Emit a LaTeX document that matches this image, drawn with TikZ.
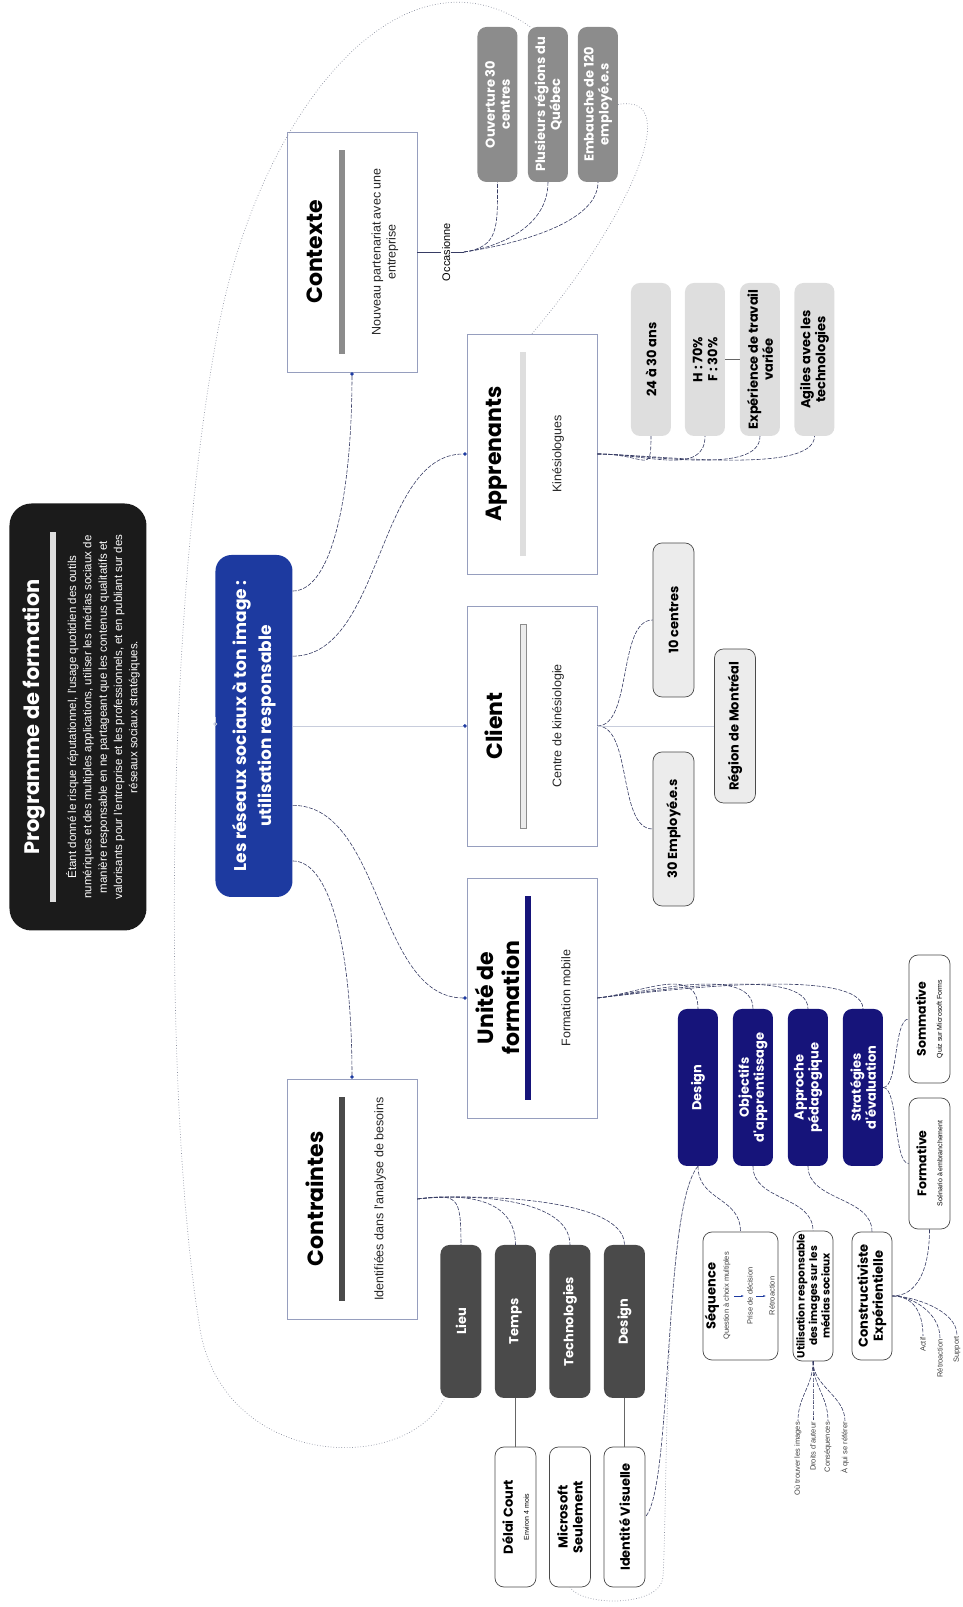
\documentclass[tikz,border=0pt]{standalone}
\usepackage{fontspec}
\setmainfont{Liberation Sans}
\newfontfamily\headfont{Poppins}
\usetikzlibrary{arrows.meta,positioning,calc}

\definecolor{inkblack}{RGB}{27,27,27}
\definecolor{royal}{RGB}{29,58,160}
\definecolor{navy}{RGB}{22,20,122}
\definecolor{cardline}{RGB}{150,158,190}
\definecolor{midgray}{RGB}{140,140,140}
\definecolor{softgray}{RGB}{222,222,222}
\definecolor{palegray}{RGB}{236,236,236}
\definecolor{darkgray}{RGB}{74,74,74}
\definecolor{linkblue}{RGB}{55,60,100}
\definecolor{relgray}{RGB}{140,145,160}
\definecolor{axisgray}{RGB}{200,205,220}

\begin{document}
\begin{tikzpicture}[x=1pt, y=1pt, rotate=90, transform shape,
    card/.style={draw=cardline, fill=white, line width=0.7pt, minimum width=240, minimum height=130},
    cardtitle/.style={font=\headfont\bfseries\fontsize{22}{26}\selectfont, align=center, inner sep=0pt},
    cardsub/.style={font=\fontsize{12.5}{15}\selectfont, align=center, inner sep=0pt, text=black!85},
    pill/.style={rounded corners=9, minimum width=155, minimum height=40, inner sep=1pt, align=center, font=\headfont\bfseries\fontsize{13}{15}\selectfont},
    greypill/.style={pill, fill=midgray, text=white},
    lightpill/.style={pill, fill=softgray, minimum width=153},
    palepill/.style={pill, fill=palegray, draw=darkgray, line width=0.7pt, minimum width=154, minimum height=41},
    navypill/.style={pill, fill=navy, text=white, minimum width=157},
    darkpill/.style={pill, fill=darkgray, text=white, minimum width=153, minimum height=41},
    whitebox/.style={draw=darkgray, fill=white, rounded corners=9, line width=0.7pt, align=center, minimum width=140, minimum height=41, inner sep=1pt, font=\headfont\bfseries\fontsize{13}{15}\selectfont},
    smalllabel/.style={font=\fontsize{7.5}{9}\selectfont, inner sep=1pt, text=black!75},
    link/.style={draw=linkblue, line width=0.6pt, dash pattern=on 4pt off 1.5pt},
    rel/.style={draw=relgray, line width=0.7pt, dotted},
    axisline/.style={draw=axisgray, line width=0.7pt},
    solidline/.style={draw=black!60, line width=0.7pt},
    enddot/.style={-{Circle[length=3.5pt, color=royal]}},
    seqarrow/.style={-{Latex[length=2.5pt]}, draw=royal, line width=0.5pt, shorten <=2.5pt, shorten >=2pt}
]
\useasboundingbox (0,0) rectangle (1607,963);

% programme
\node[fill=inkblack, rounded corners=22, minimum width=427, minimum height=137] (prog) at (890,885) {};
\node[font=\headfont\bfseries\fontsize{21}{25}\selectfont, text=white, inner sep=0pt] (progtitle) at (890,929) {Programme de formation};
\fill[softgray] (705,907) rectangle (1075,913);
\node[font=\fontsize{11.5}{15.3}\selectfont, text=white, align=center, inner sep=0pt] (progtext) at (890,860) {Étant donné le risque réputationnel, l'usage quotidien des outils\\numériques et des multiples applications, utiliser les médias sociaux de\\manière responsable en ne partageant que les contenus qualitatifs et\\valorisants pour l'entreprise et les professionnels, et en publiant sur des\\réseaux sociaux stratégiques.};

\node[fill=royal, rounded corners=16, minimum width=342, minimum height=77, text=white, align=center, font=\headfont\bfseries\fontsize{17}{25}\selectfont] (cen) at (881,709) {Les réseaux sociaux à ton image :\\utilisation responsable};

% cards
\node[card] (ctx) at (1355,611) {};
\node[cardtitle] (ctxtitle) at (1355,648) {Contexte};
\fill[midgray] (1253,618) rectangle (1457,624);
\node[cardsub] (ctxsub) at (1355,578) {Nouveau partenariat avec une\\entreprise};

\node[card] (app) at (1153,431) {};
\node[cardtitle] (apptitle) at (1153,466) {Apprenants};
\fill[softgray] (1051,437) rectangle (1255,443);
\node[cardsub] (appsub) at (1153,405) {Kinésiologues};

\node[card] (cli) at (881,431) {};
\node[cardtitle] (clititle) at (881,469) {Client};
\draw[midgray, fill=palegray, line width=0.8pt] (779,437) rectangle (983,443);
\node[cardsub] (clisub) at (881,405) {Centre de kinésiologie};

\node[card] (uni) at (609,431) {};
\node[cardtitle] (unititle) at (609,466) {Unité de\\formation};
\fill[navy] (507,432) rectangle (711,438);
\node[cardsub] (unisub) at (609,397) {Formation mobile};

\node[card] (ctr) at (408,611) {};
\node[cardtitle] (ctrtitle) at (408,648) {Contraintes};
\fill[darkgray] (306,618) rectangle (510,624);
\node[cardsub] (ctrsub) at (408,583) {Identifiées dans l'analyse de besoins};

% contexte
\coordinate (occj) at (1355,499);
\node[greypill] (ouv) at (1502.5,465.5) {Ouverture 30\\centres};
\node[greypill] (plus) at (1502.5,415) {Plusieurs régions du\\Québec};
\node[greypill] (emb) at (1502.5,365) {Embauche de 120\\employé.e.s};

% apprenants
\node[lightpill] (age) at (1247.5,312) {24 à 30 ans};
\node[lightpill] (sexe) at (1247.5,258) {H : 70\%\\F : 30\%};
\node[lightpill] (exp) at (1247.5,203) {Expérience de travail\\variée};
\node[lightpill] (agile) at (1247.5,148.5) {Agiles avec les\\technologies};

% client
\node[palepill] (cent) at (987,289.5) {10 centres};
\node[palepill] (empl) at (778,289.5) {30 Employé.e.s};
\node[palepill] (reg) at (881,228) {Région de Montréal};

% unite de formation
\node[navypill] (udesign) at (519.5,265) {Design};
\node[navypill] (obj) at (519.5,210) {Objectifs\\d'apprentissage};
\node[navypill] (appr) at (519.5,155) {Approche\\pédagogique};
\node[navypill] (strat) at (519.5,100) {Stratégies\\d'évaluation};

\node[whitebox, minimum width=128] (somm) at (588,33.5) {{\headfont\bfseries\fontsize{12.5}{14}\selectfont Sommative}\\[1pt]{\normalfont\fontsize{7}{9}\selectfont Quiz sur Microsoft Forms}};
\node[whitebox, minimum width=131] (form) at (443.5,33.5) {{\headfont\bfseries\fontsize{12.5}{14}\selectfont Formative}\\[1pt]{\normalfont\fontsize{7}{9}\selectfont Scénario à embranchement}};

\node[whitebox, minimum width=128, minimum height=75] (seq) at (311,222.5) {};
\node[font=\headfont\bfseries\fontsize{13}{15}\selectfont, inner sep=1pt] (seqtitle) at (311,251) {Séquence};
\node[smalllabel] (seq1) at (311,236) {Question à choix multiples};
\node[smalllabel] (seq2) at (311,213) {Prise de décision};
\node[smalllabel] (seq3) at (311,191) {Rétroaction};
\draw[seqarrow] (seq1) -- (seq2);
\draw[seqarrow] (seq2) -- (seq3);

\node[whitebox, minimum width=130, minimum height=40, font=\headfont\bfseries\fontsize{10.5}{12.5}\selectfont] (util) at (311,150) {Utilisation responsable\\des images sur les\\médias sociaux};
\node[whitebox, minimum width=128, minimum height=40] (cstr) at (311,91) {Constructiviste\\Expérientielle};

\node[smalllabel, anchor=east] (lwhere) at (186,165) {Où trouver les images};
\node[smalllabel, anchor=east] (lrights) at (186,150) {Droits d'auteur};
\node[smalllabel, anchor=east] (lconseq) at (186,135) {Conséquences};
\node[smalllabel, anchor=east] (lwho) at (186,118) {À qui se référer};
\node[smalllabel, anchor=east] (lactif) at (271,40) {Actif};
\node[smalllabel, anchor=east] (lretro) at (269,23) {Rétroaction};
\node[smalllabel, anchor=east] (lsupport) at (272,6) {Support};

% contraintes
\node[darkpill] (lieu) at (285.5,502) {Lieu};
\node[darkpill] (temps) at (285.5,447.5) {Temps};
\node[darkpill] (tech) at (285.5,393) {Technologies};
\node[darkpill] (cdesign) at (285.5,338.5) {Design};
\node[whitebox] (delai) at (90,447.5) {{\headfont\bfseries\fontsize{13}{15}\selectfont Délai Court}\\[1pt]{\normalfont\fontsize{7}{9}\selectfont Environ 4 mois}};
\node[whitebox] (micro) at (90,393) {Microsoft\\Seulement};
\node[whitebox] (ident) at (90,338.5) {Identité Visuelle};

% branches
\draw[axisline, -{Circle[open, length=4pt, color=axisgray]}] (prog.south |- cen.north) -- (cen.north);
\draw[axisline, enddot] (cen.south) -- (cli.north);
\draw[link, enddot] (cen.-16) .. controls +(0,-40) and +(-120,0) .. (ctx.west);
\draw[link, enddot] (cen.-29) .. controls +(0,-90) and +(0,90) .. (app.north);
\draw[link, enddot] (cen.-154) .. controls +(0,-90) and +(0,90) .. (uni.north);
\draw[link, enddot] (cen.-164) .. controls +(0,-40) and +(120,0) .. (ctr.east);

\draw[draw=linkblue, line width=0.6pt] (ctx.south) -- node[pos=0.62, fill=white, inner sep=1pt, font=\fontsize{11}{13}\selectfont] (occlabel) {Occasionne} (occj);
\foreach \n in {ouv,plus,emb}
  \draw[link] (occj) .. controls +(5,-35) and +(-45,0) .. (\n.west);

\foreach \n in {age,sexe,exp,agile}
  \draw[link] (app.south) .. controls +(0,-50) and +(-40,0) .. (\n.west);
\draw[solidline] (sexe.south) -- (exp.north);

\draw[link] (cli.south) .. controls +(0,-35) and +(0,35) .. (cent.north);
\draw[link] (cli.south) .. controls +(0,-35) and +(0,35) .. (empl.north);
\draw[axisline] (cli.south) -- (reg.north);

\foreach \n in {udesign,obj,appr,strat}
  \draw[link] (uni.south) .. controls +(5,-45) and +(45,0) .. (\n.east);
\draw[link] (strat.south) .. controls +(0,-15) and +(0,15) .. (somm.north);
\draw[link] (strat.south) .. controls +(0,-15) and +(0,15) .. (form.north);
\draw[link] (udesign.west) .. controls +(-35,0) and +(35,0) .. (seq.east);
\draw[link] (obj.west) .. controls +(-35,0) and +(35,0) .. (util.east);
\draw[link] (appr.west) .. controls +(-35,0) and +(35,0) .. (cstr.east);
\foreach \n in {lwhere,lrights,lconseq,lwho}
  \draw[link] (util.west) .. controls +(-25,0) and +(25,0) .. (\n.east);
\foreach \n in {lactif,lretro,lsupport}
  \draw[link] (cstr.south) .. controls +(0,-20) and +(25,0) .. (\n.east);
\draw[link] (form.west) .. controls +(-40,0) and +(0,-25) .. (cstr.south);

\foreach \n in {lieu,temps,tech,cdesign}
  \draw[link] (ctr.south) .. controls +(5,-40) and +(50,0) .. (\n.east);
\draw[solidline] (temps.west) -- (delai.east);
\draw[solidline] (cdesign.west) -- (ident.east);

% relations
\draw[rel] (plus.13) .. controls (1670,560) and (1500,700) .. (1287,743) .. controls (1000,800) and (500,800) .. (278,763) .. controls (140,740) and (130,560) .. (lieu.168);
\draw[rel] (app.east) .. controls (1380,340) and (1515,275) .. (emb.south);
\draw[link] (udesign.west) .. controls (400,300) and (120,290) .. (ident.south);
\draw[rel] (udesign.west) .. controls (400,300) and (120,295) .. (30,300) .. controls (0,302) and (0,380) .. (micro.west);
\end{tikzpicture}
\end{document}
